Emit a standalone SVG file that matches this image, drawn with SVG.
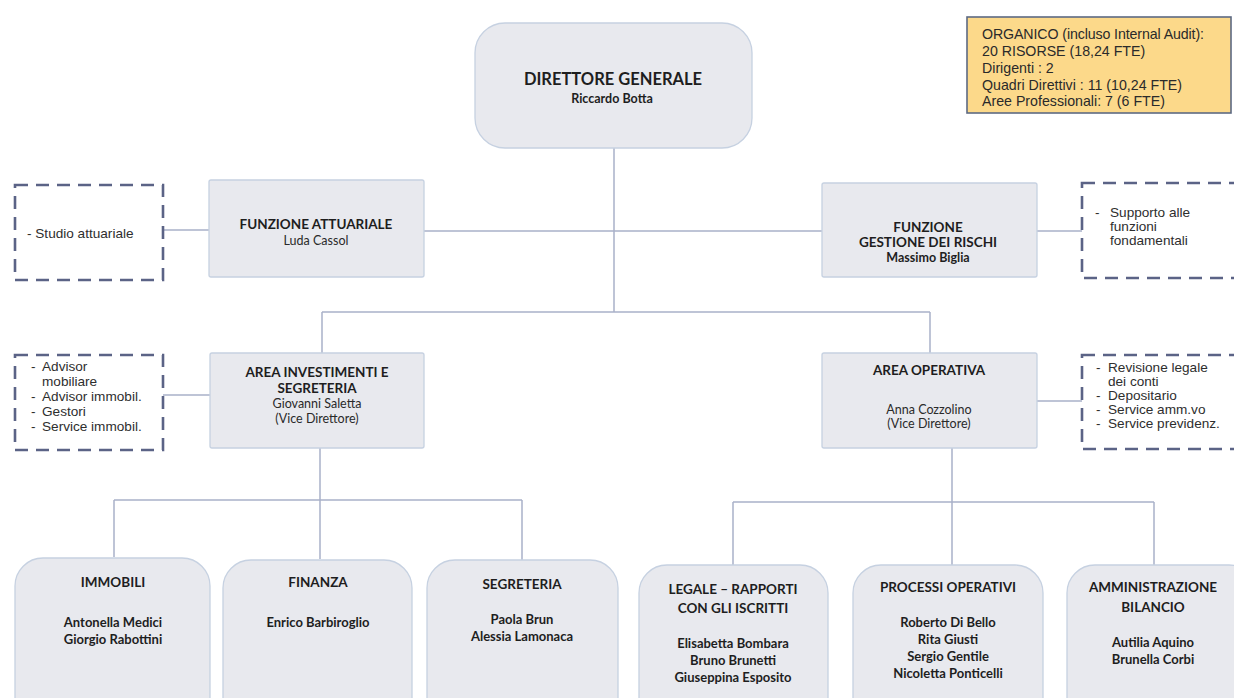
<svg xmlns="http://www.w3.org/2000/svg" width="1234" height="698" viewBox="0 0 1234 698">
<style>
.bg{fill:#ffffff}
.box{fill:#e8e9ee;stroke:#c6d1e1;stroke-width:1.3}
.dash{fill:#ffffff;stroke:#5b6386;stroke-width:2.6;stroke-dasharray:13 8}
.org{fill:#fcd98a;stroke:#5d6983;stroke-width:1.6}
.conn{fill:none;stroke:#a9b1c9;stroke-width:1.5}
.t{font-family:Lato,"Open Sans","Liberation Sans",sans-serif;fill:#1e1e1e;text-anchor:middle}
.b{font-weight:bold}
.n{font-weight:normal;fill:#2a2a2a}
.mt{font-size:13.5px}
.mn{font-size:12.5px}
.bt{font-size:13.5px}
.bn{font-size:13px}
.a{font-family:"Liberation Sans",Arial,sans-serif;fill:#2e2e2e;font-size:13.6px}
</style>
<rect class="bg" x="0" y="0" width="1234" height="698"/>

<g id="connectors">
<path class="conn" d="M614 148 V312 M424 231 H822 M322 312 H930 M322 312 V353 M930 312 V353"/>
<path class="conn" d="M163 230 H209 M1037 231 H1082 M163 395 H210 M1037 401 H1082"/>
<path class="conn" d="M320 448 V559 M114 500 H522 M114 500 V557 M522 500 V560"/>
<path class="conn" d="M952 448 V565 M733 502 H1154 M733 502 V565 M1154 502 V565"/>
</g>

<g id="organico">
<rect class="org" x="967" y="17" width="264" height="96"/>
<g font-family="'Liberation Sans',Arial,sans-serif" font-size="14.2" fill="#2a2a2a">
<text x="982" y="39" textLength="222" lengthAdjust="spacing">ORGANICO (incluso Internal Audit):</text>
<text x="982" y="56">20 RISORSE (18,24 FTE)</text>
<text x="982" y="73">Dirigenti : 2</text>
<text x="982" y="90">Quadri Direttivi : 11 (10,24 FTE)</text>
<text x="982" y="106">Aree Professionali: 7 (6 FTE)</text>
</g>
</g>

<g id="direttore">
<rect class="box" x="475" y="23" width="277" height="125" rx="30"/>
<text class="t b" x="613" y="85" font-size="16.5">DIRETTORE GENERALE</text>
<text class="t b" x="612" y="103" font-size="12.5">Riccardo Botta</text>
</g>

<g id="studio-attuariale">
<rect class="dash" x="15" y="185" width="148" height="95"/>
<text class="a" x="27" y="238">- Studio attuariale</text>
</g>

<g id="funzione-attuariale">
<rect class="box" x="209" y="180" width="215" height="97" rx="2"/>
<text class="t b mt" x="316" y="229">FUNZIONE ATTUARIALE</text>
<text class="t n mn" x="316" y="245">Luda Cassol</text>
</g>

<g id="funzione-rischi">
<rect class="box" x="822" y="183" width="215" height="94" rx="2"/>
<text class="t b mt" x="928" y="232">FUNZIONE</text>
<text class="t b mt" x="928" y="247">GESTIONE DEI RISCHI</text>
<text class="t b mn" x="928" y="262">Massimo Biglia</text>
</g>

<g id="supporto">
<rect class="dash" x="1082" y="183" width="170" height="95"/>
<text class="a" x="1095" y="217">-</text>
<text class="a" x="1110" y="217">Supporto alle</text>
<text class="a" x="1110" y="231">funzioni</text>
<text class="a" x="1110" y="245">fondamentali</text>
</g>

<g id="advisor">
<rect class="dash" x="15" y="355" width="148" height="95"/>
<text class="a" x="31" y="371">-</text>
<text class="a" x="42" y="371">Advisor</text>
<text class="a" x="42" y="386">mobiliare</text>
<text class="a" x="31" y="401">-</text>
<text class="a" x="42" y="401">Advisor immobil.</text>
<text class="a" x="31" y="416">-</text>
<text class="a" x="42" y="416">Gestori</text>
<text class="a" x="31" y="431">-</text>
<text class="a" x="42" y="431">Service immobil.</text>
</g>

<g id="area-investimenti">
<rect class="box" x="210" y="353" width="214" height="95" rx="2"/>
<text class="t b mt" x="317" y="377">AREA INVESTIMENTI E</text>
<text class="t b mt" x="317" y="393">SEGRETERIA</text>
<text class="t n mn" x="317" y="408">Giovanni Saletta</text>
<text class="t n mn" x="317" y="423">(Vice Direttore)</text>
</g>

<g id="area-operativa">
<rect class="box" x="822" y="353" width="215" height="95" rx="2"/>
<text class="t b mt" x="929" y="375">AREA OPERATIVA</text>
<text class="t n mn" x="929" y="414">Anna Cozzolino</text>
<text class="t n mn" x="929" y="428">(Vice Direttore)</text>
</g>

<g id="revisione">
<rect class="dash" x="1082" y="355" width="170" height="94"/>
<text class="a" x="1096" y="372">-</text>
<text class="a" x="1108" y="372">Revisione  legale</text>
<text class="a" x="1108" y="386">dei conti</text>
<text class="a" x="1096" y="400">-</text>
<text class="a" x="1108" y="400">Depositario</text>
<text class="a" x="1096" y="414">-</text>
<text class="a" x="1108" y="414">Service amm.vo</text>
<text class="a" x="1096" y="428">-</text>
<text class="a" x="1108" y="428">Service previdenz.</text>
</g>

<g id="immobili">
<rect class="box" x="15" y="558" width="195" height="170" rx="28"/>
<text class="t b bt" x="113" y="587">IMMOBILI</text>
<text class="t b bn" x="113" y="627">Antonella Medici</text>
<text class="t b bn" x="113" y="644">Giorgio Rabottini</text>
</g>

<g id="finanza">
<rect class="box" x="223" y="560" width="189" height="170" rx="28"/>
<text class="t b bt" x="318" y="587">FINANZA</text>
<text class="t b bn" x="318" y="627">Enrico Barbiroglio</text>
</g>

<g id="segreteria">
<rect class="box" x="427" y="560" width="191" height="170" rx="28"/>
<text class="t b bt" x="522" y="589">SEGRETERIA</text>
<text class="t b bn" x="522" y="624">Paola Brun</text>
<text class="t b bn" x="522" y="641">Alessia  Lamonaca</text>
</g>

<g id="legale">
<rect class="box" x="639" y="565" width="189" height="170" rx="28"/>
<text class="t b bt" x="733" y="594">LEGALE – RAPPORTI</text>
<text class="t b bt" x="733" y="613">CON GLI ISCRITTI</text>
<text class="t b bn" x="733" y="648">Elisabetta Bombara</text>
<text class="t b bn" x="733" y="665">Bruno Brunetti</text>
<text class="t b bn" x="733" y="682">Giuseppina  Esposito</text>
</g>

<g id="processi">
<rect class="box" x="853" y="565" width="190" height="170" rx="28"/>
<text class="t b bt" x="948" y="592">PROCESSI OPERATIVI</text>
<text class="t b bn" x="948" y="627">Roberto Di Bello</text>
<text class="t b bn" x="948" y="644">Rita Giusti</text>
<text class="t b bn" x="948" y="661">Sergio Gentile</text>
<text class="t b bn" x="948" y="678">Nicoletta Ponticelli</text>
</g>

<g id="amministrazione">
<rect class="box" x="1067" y="565" width="190" height="170" rx="28"/>
<text class="t b bt" x="1153" y="592">AMMINISTRAZIONE</text>
<text class="t b bt" x="1153" y="612">BILANCIO</text>
<text class="t b bn" x="1153" y="647">Autilia Aquino</text>
<text class="t b bn" x="1153" y="664">Brunella Corbi</text>
</g>
</svg>
